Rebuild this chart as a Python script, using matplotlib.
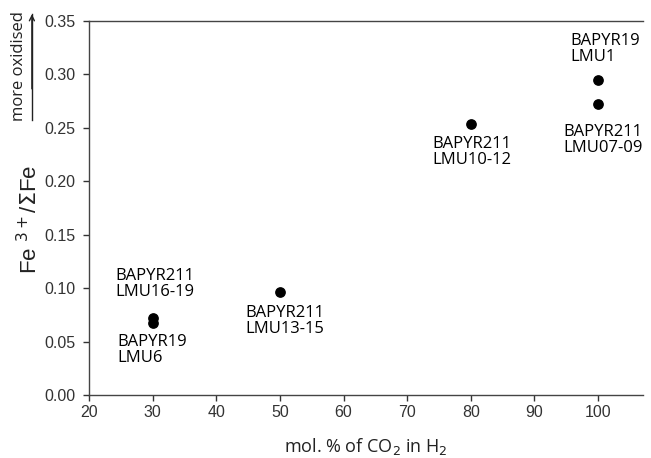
import matplotlib.pyplot as plt
from matplotlib.patches import FancyArrowPatch

# CO2 content of the gas mix and measured iron redox ratio
co2 = [100, 100, 80, 50, 30, 30]
fe_ratio = [0.295, 0.272, 0.254, 0.096, 0.072, 0.067]

labels = ["BAPYR19\nLMU1", "BAPYR211\nLMU07-09", "BAPYR211\nLMU10-12",
          "BAPYR211\nLMU13-15", "BAPYR211\nLMU16-19", "BAPYR19\nLMU6"]
label_x = [95.6, 94.5, 73.9, 44.5, 24.1, 24.4]
label_y = [0.324, 0.239, 0.227, 0.069, 0.104, 0.042]

xticks = [20, 30, 40, 50, 60, 70, 80, 90, 100]
yticks = [0.00, 0.05, 0.10, 0.15, 0.20, 0.25, 0.30, 0.35]

plt.rcParams['font.family'] = ['Liberation Sans', 'DejaVu Sans']

fig = plt.figure(figsize=(6.51, 4.58), dpi=100)
ax = fig.add_axes([0.137, 0.1376, 0.85, 0.8166])

ax.scatter(co2, fe_ratio, s=45, color='black', zorder=3)

for t, lx, ly in zip(labels, label_x, label_y):
    ax.text(lx, ly, t, ha='left', va='center', fontsize=12,
            family='Open Sans', color='black', linespacing=1.0)

ax.set_xlim(20, 107)
ax.set_ylim(0, 0.35)
ax.set_xticks(xticks)
ax.set_yticks(yticks)
ax.set_yticklabels([f"{v:.2f}" for v in yticks])
ax.tick_params(labelsize=11.5, colors='#333333', length=4, width=1)
ax.tick_params(axis='y', pad=6)

for side in ['left', 'bottom', 'top']:
    ax.spines[side].set_color('#444444')
    ax.spines[side].set_linewidth(1.0)
ax.spines['right'].set_visible(False)

ax.set_xlabel("mol. % of CO$_2$ in H$_2$", fontsize=13, family='Open Sans',
              color='#222222', labelpad=11)

fig.text(0.046, 0.52, "Fe $^{3+}$/$\\Sigma$Fe", rotation=90, ha='center',
         va='center', fontsize=16, color='#222222')

# "more oxidised" arrow beside the y axis
fig.text(0.029, 0.855, "more oxidised", rotation=90, ha='center', va='center',
         fontsize=12, family='Open Sans', color='#222222')
fig.add_artist(plt.Line2D([0.049, 0.049], [0.738, 0.97], color='#222222',
                          lw=1.0, transform=fig.transFigure))
fig.patches.append(FancyArrowPatch(
    (0.049, 0.80), (0.049, 0.975), arrowstyle='->', mutation_scale=9,
    color='#222222', lw=1.0, transform=fig.transFigure, figure=fig))

fig.savefig("out.png", dpi=100)
